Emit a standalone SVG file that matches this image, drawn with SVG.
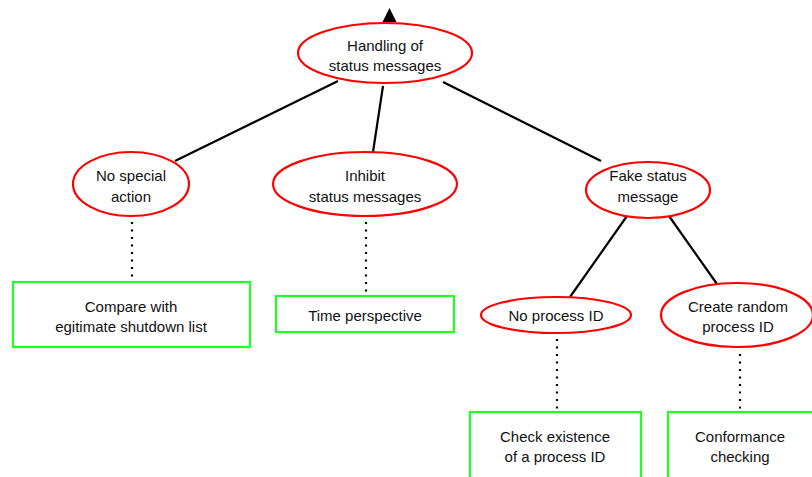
<svg xmlns="http://www.w3.org/2000/svg" width="812" height="477" viewBox="0 0 812 477">
<style>
.n ellipse{fill:#fff;stroke:#ff0000;stroke-width:2.2}
.b rect{fill:#fff;stroke:#22ff22;stroke-width:2.2}
text{font-family:"Liberation Sans",Arial,sans-serif;font-size:15px;fill:#111;text-anchor:middle}
.e line{stroke:#000;stroke-width:2.2}
.d line{stroke:#000;stroke-width:2.2;stroke-dasharray:2 5.5}
</style>
<rect width="812" height="477" fill="#fff"/>
<g id="connectors">
<g class="e">
<line x1="338" y1="81" x2="175" y2="161"/>
<line x1="383" y1="86" x2="373" y2="152"/>
<line x1="443" y1="82" x2="601" y2="161"/>
<line x1="627" y1="216" x2="570" y2="297"/>
<line x1="669" y1="216" x2="717" y2="284"/>
</g>
<g class="d">
<line x1="132" y1="222" x2="132" y2="281"/>
<line x1="366" y1="222" x2="366" y2="295"/>
<line x1="557" y1="339" x2="557" y2="411"/>
<line x1="740" y1="354" x2="740" y2="411"/>
</g>
<polygon points="382.5,22 396.5,22 389.5,8" fill="#000"/>
</g>
<g id="root" class="n"><ellipse cx="385" cy="53" rx="87" ry="30"/><text x="385" y="51">Handling of</text><text x="385" y="71">status messages</text></g>
<g id="nospecial" class="n"><ellipse cx="131" cy="184" rx="58" ry="32"/><text x="131" y="181">No special</text><text x="131" y="202">action</text></g>
<g id="inhibit" class="n"><ellipse cx="365" cy="184" rx="92" ry="32"/><text x="365" y="181">Inhibit</text><text x="365" y="202">status messages</text></g>
<g id="fake" class="n"><ellipse cx="648" cy="190" rx="62" ry="28"/><text x="648" y="181">Fake status</text><text x="648" y="202">message</text></g>
<g id="noprocess" class="n"><ellipse cx="556" cy="315" rx="75" ry="18"/><text x="556" y="321">No process ID</text></g>
<g id="random" class="n"><ellipse cx="737" cy="315" rx="76" ry="32"/><text x="738" y="312">Create random</text><text x="738" y="332">process ID</text></g>
<g id="compare" class="b"><rect x="13" y="282" width="237" height="65"/><text x="131" y="312">Compare with</text><text x="131" y="332">egitimate shutdown list</text></g>
<g id="time" class="b"><rect x="276" y="296" width="178" height="36"/><text x="365" y="321">Time perspective</text></g>
<g id="check" class="b"><rect x="470" y="412" width="171" height="70"/><text x="555" y="442">Check existence</text><text x="555" y="462">of a process ID</text></g>
<g id="conformance" class="b"><rect x="668" y="412" width="150" height="70"/><text x="740" y="442">Conformance</text><text x="740" y="462">checking</text></g>
</svg>
